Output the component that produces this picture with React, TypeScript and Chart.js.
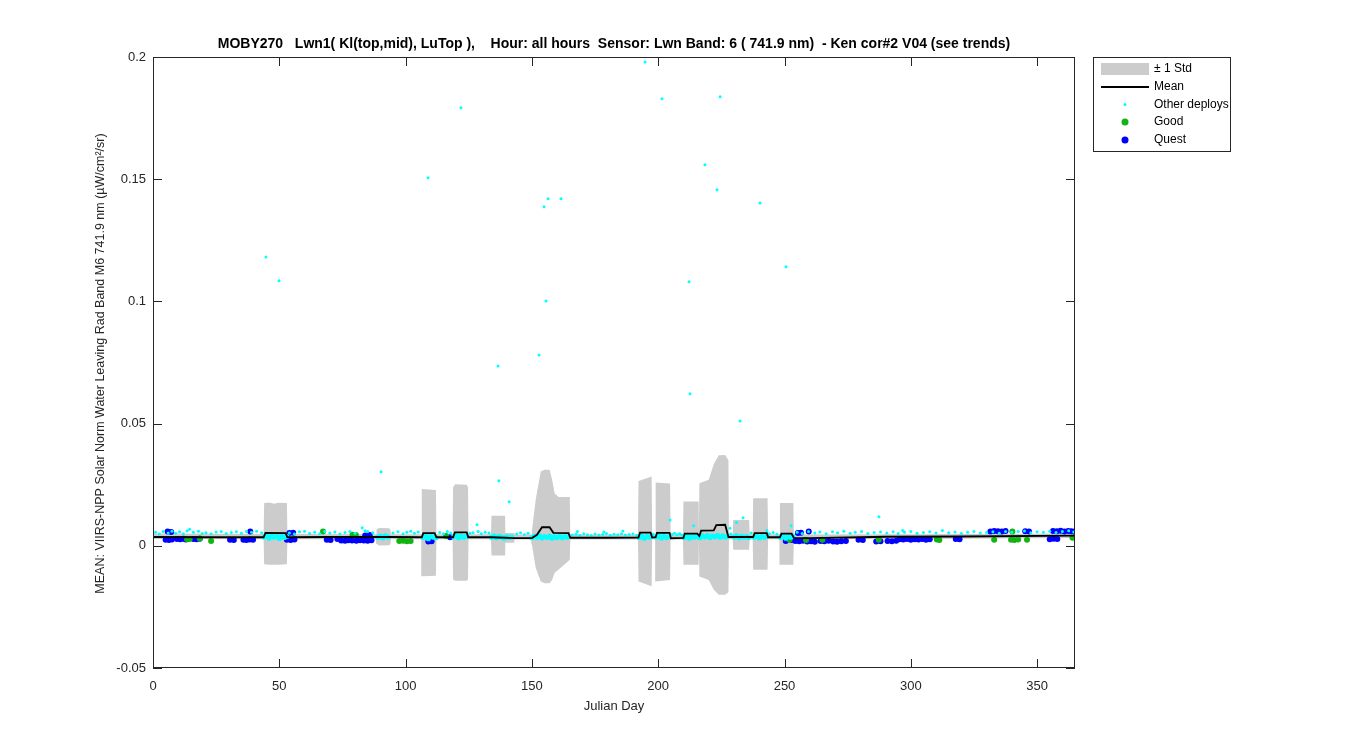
import React, { useEffect, useRef } from "react";
import { Chart, registerables } from "chart.js";

Chart.register(...registerables);

const TITLE =
  "MOBY270   Lwn1( Kl(top,mid), LuTop ),    Hour: all hours  Sensor: Lwn Band: 6 ( 741.9 nm)  - Ken cor#2 V04 (see trends)";
const X_LABEL = "Julian Day";
const Y_LABEL = "MEAN: VIIRS-NPP Solar Norm Water Leaving Rad Band M6 741.9 nm (\u00b5W/cm\u00b2/sr)";
const LEGEND_LABELS = ["\u00b1 1 Std", "Mean", "Other deploys", "Good", "Quest"];

const xTicks = [0, 50, 100, 150, 200, 250, 300, 350];
const yTicks = [-0.05, 0, 0.05, 0.1, 0.15, 0.2];

// [day, mean + std, mean - std]
const stdBand: [number, number, number][] = [
  [0, 0.005, 0.0028], [43.8, 0.0048, 0.0027], [44, 0.0175, -0.0075], [46, 0.0177, -0.0078],
  [48, 0.0172, -0.0078], [49.5, 0.0176, -0.0078], [53, 0.0175, -0.0075], [53.2, 0.0048, 0.0027],
  [88.3, 0.0047, 0.0027], [88.5, 0.0068, 0.0008], [89.5, 0.0073, 0.0001], [93.5, 0.0072, 0.0002],
  [94, 0.0065, 0.0008], [94.2, 0.0047, 0.0027], [106.2, 0.0047, 0.0027], [106.4, 0.0232, -0.0125],
  [112, 0.0228, -0.0123], [112.2, 0.0047, 0.0027], [118.6, 0.0047, 0.0027], [118.8, 0.024, -0.0138],
  [119.6, 0.0252, -0.0143], [124.2, 0.025, -0.0143], [124.7, 0.024, -0.0138], [124.9, 0.0047, 0.0027],
  [133.8, 0.0047, 0.0027], [134, 0.0123, -0.004], [139.4, 0.0123, -0.004], [139.5, 0.0052, 0.0012],
  [143, 0.0052, 0.0012], [143.2, 0.0046, 0.0026], [149.8, 0.0046, 0.0026], [150, 0.006, 0.0005],
  [151.5, 0.0188, -0.009], [153.5, 0.0304, -0.0146], [155, 0.0311, -0.0153], [157, 0.0311, -0.0153],
  [158, 0.027, -0.014], [159, 0.0215, -0.011], [160.5, 0.02, -0.0098], [163, 0.02, -0.0075],
  [165, 0.02, -0.0057], [165.2, 0.0046, 0.0026], [192, 0.0046, 0.0026], [192.2, 0.0265, -0.0146],
  [197.4, 0.0284, -0.0166], [197.6, 0.0046, 0.0026], [198.8, 0.0046, 0.0026], [199, 0.0259, -0.0146],
  [204.7, 0.0255, -0.014], [204.9, 0.0046, 0.0026], [209.8, 0.0046, 0.0026], [210, 0.0181, -0.0078],
  [216, 0.0181, -0.0078], [216.1, 0.005, 0.003], [216.3, 0.0256, -0.0126], [220, 0.027, -0.014],
  [222, 0.0335, -0.018], [224, 0.037, -0.02], [226.5, 0.0372, -0.02], [227.8, 0.035, -0.019],
  [228, 0.0047, 0.0027], [229.5, 0.0047, 0.0027], [229.7, 0.0106, -0.0016], [236, 0.0106, -0.0016],
  [236.2, 0.0047, 0.0027], [237.4, 0.0047, 0.0027], [237.6, 0.0195, -0.0098], [243.3, 0.0195, -0.0098],
  [243.5, 0.0047, 0.0027], [248, 0.0047, 0.0027], [248.2, 0.0175, -0.0078], [253.5, 0.0175, -0.0078],
  [253.7, 0.0046, 0.0027], [300, 0.0047, 0.0028], [365, 0.005, 0.0032],
];

// [day, mean]
const meanSeries: [number, number][] = [
  [0, 0.0036], [20, 0.0035], [43.8, 0.0035], [44.5, 0.0053], [52.5, 0.0052], [53.2, 0.0035],
  [70, 0.0036], [88.5, 0.0036], [94, 0.0036], [106.4, 0.0035], [107, 0.0052], [111.5, 0.0052],
  [112.2, 0.0035], [118.8, 0.0035], [119.5, 0.0055], [124.2, 0.0055], [124.8, 0.0035], [134, 0.0035],
  [139.4, 0.0033], [143, 0.0031], [150, 0.0032], [152, 0.0045], [154, 0.0076], [157, 0.0076],
  [158.5, 0.0053], [164.5, 0.0052], [165.2, 0.0033], [180, 0.0033], [192.2, 0.0034], [192.8, 0.0054],
  [197, 0.0054], [197.6, 0.0034], [199, 0.0035], [199.5, 0.0053], [204.5, 0.0053], [205, 0.0031],
  [210, 0.0032], [210.5, 0.005], [215.5, 0.005], [216.3, 0.004], [217, 0.0062], [222, 0.0063],
  [223, 0.0085], [226.5, 0.0086], [227.8, 0.0036], [236, 0.0036], [237.6, 0.0036], [238.2, 0.0052],
  [243, 0.0052], [243.5, 0.0035], [248.2, 0.0035], [248.8, 0.005], [252.8, 0.005], [253.7, 0.0032],
  [260, 0.0031], [285, 0.0036], [290, 0.0037], [320, 0.0038], [365, 0.0042],
];

// Other deploys: scattered dots around the baseline and the outliers
const otherPoints: [number, number][] = [
  [1, 0.0055], [2.5, 0.0048], [4, 0.0058], [6, 0.0052], [7.5, 0.006], [9, 0.0051], [10.5, 0.0057],
  [12, 0.0049], [13.5, 0.0062], [14.5, 0.0068], [16, 0.0055], [18, 0.006], [19.5, 0.005], [21, 0.0053],
  [23, 0.0049], [25, 0.0056], [27, 0.0058], [29, 0.005], [31, 0.0054], [33, 0.0057], [35, 0.0051],
  [37, 0.0059], [39, 0.0055], [41, 0.006], [43, 0.0053],
  [54, 0.0052], [56, 0.0048], [58, 0.0057], [60, 0.006], [62, 0.005], [64, 0.0055], [66, 0.0049],
  [68, 0.0058], [70, 0.0052], [72, 0.0056], [74, 0.0048], [76, 0.0054], [78, 0.0059], [80, 0.0051],
  [82.8, 0.0074], [84, 0.0062], [85, 0.0058], [87, 0.0053],
  [95, 0.0052], [97, 0.0057], [99, 0.0049], [100.5, 0.0055], [102, 0.006], [103.5, 0.0051], [105, 0.0056],
  [113.5, 0.0054], [115, 0.0049], [116.5, 0.0058], [117.8, 0.0052],
  [125.5, 0.0051], [126.7, 0.0053], [128.3, 0.0086], [128.7, 0.0058], [130, 0.0049], [131.5, 0.0055], [133, 0.0052],
  [144, 0.0048], [145.5, 0.0053], [147, 0.0046], [148.5, 0.0051],
  [166, 0.0044], [167.5, 0.0047], [168, 0.0058], [169, 0.0043], [170.5, 0.0049], [172, 0.0045],
  [173.5, 0.0042], [175, 0.0048], [176.5, 0.0044], [178, 0.0046], [178.5, 0.0056], [179.5, 0.005],
  [181, 0.0043], [182.5, 0.0047], [184, 0.0045], [185.5, 0.0049], [186, 0.0061], [187, 0.0044],
  [188.5, 0.0046], [190, 0.0048], [191.5, 0.0043],
  [198, 0.0047], [205.5, 0.0046], [206.5, 0.0051], [207.5, 0.0045], [208.5, 0.0049], [209.3, 0.0044],
  [204.7, 0.0106], [214, 0.0082], [228.4, 0.0072], [228.8, 0.0048], [231, 0.0095], [236.8, 0.0052],
  [243, 0.0063], [244, 0.0049], [245.5, 0.0054], [247, 0.0047], [252.6, 0.0082],
  [255, 0.0055], [257, 0.005], [259.5, 0.0058], [262, 0.0052], [264, 0.0056], [266.5, 0.0049],
  [269, 0.0057], [271, 0.0053], [273.5, 0.006], [276, 0.0051], [278, 0.0055], [280.5, 0.0058],
  [283, 0.005], [285.5, 0.0054], [288, 0.0056], [290.5, 0.0052], [293, 0.0057], [295, 0.005],
  [296.8, 0.0063], [297.5, 0.0055], [300, 0.0059], [302.5, 0.0051], [305, 0.0054], [307.5, 0.0057],
  [310, 0.0052], [312.5, 0.0063], [315, 0.0053], [317.5, 0.0056], [320, 0.005], [322.5, 0.0055],
  [325, 0.0058], [327.5, 0.0052], [330, 0.0054], [332.5, 0.0057], [335, 0.0051], [337.5, 0.0059],
  [340, 0.0055], [342.5, 0.0058], [345, 0.0061], [347.5, 0.0053], [350, 0.0057], [352.5, 0.0055],
  [355, 0.006], [357.5, 0.0054], [360, 0.0058], [362.5, 0.0062], [364.5, 0.0056],
  [44.7, 0.1182], [49.9, 0.1084], [90.3, 0.0303], [108.9, 0.1506], [121.9, 0.1792], [136.6, 0.0736],
  [136.9, 0.0266], [141, 0.018], [152.8, 0.0781], [154.8, 0.1387], [155.6, 0.1002], [156.4, 0.142],
  [161.5, 0.142], [194.8, 0.198], [201.5, 0.1829], [212.6, 0.0622], [212.2, 0.108], [218.5, 0.1559],
  [223.3, 0.1457], [224.5, 0.1837], [232.4, 0.0511], [233.6, 0.0115], [240.3, 0.1403], [250.6, 0.1142],
  [287.4, 0.0119],
];

// Other deploys: dense clusters inside the deployment windows
const otherClusters: [number, number][] = [
  [44, 0.0036], [45, 0.0041], [46, 0.0031], [47, 0.0044], [48, 0.0035], [49, 0.0039], [50, 0.003],
  [51, 0.0042], [52, 0.0034], [53, 0.0038],
  [89, 0.0035], [90, 0.004], [91, 0.0033], [92, 0.0041], [93, 0.0036],
  [107, 0.0034], [108, 0.0041], [109, 0.0029], [110, 0.0039], [111, 0.0035], [112, 0.0033],
  [119, 0.0037], [120, 0.0042], [121, 0.0033], [122, 0.004], [123, 0.0035], [124, 0.0038],
  [134, 0.0035], [135, 0.004], [136, 0.0033], [137, 0.0039], [138, 0.0036], [139, 0.0031],
  [140, 0.0037], [141, 0.0034], [142, 0.0036],
  [150, 0.0033], [151, 0.0039], [152, 0.0035], [153, 0.0041], [154, 0.0032], [155, 0.0038],
  [156, 0.0034], [157, 0.004], [158, 0.0031], [159, 0.0037], [160, 0.0034], [161, 0.0039],
  [162, 0.0033], [163, 0.0038], [164, 0.0035],
  [192.5, 0.0034], [193.5, 0.004], [194.5, 0.0031], [195.5, 0.0038], [196.5, 0.0035], [197.2, 0.0039],
  [199.3, 0.0036], [200.3, 0.0041], [201.3, 0.0032], [202.3, 0.0039], [203.3, 0.0034], [204.3, 0.0038],
  [210.3, 0.0034], [211.3, 0.004], [212.3, 0.0031], [213.3, 0.0038], [214.3, 0.0035], [215.3, 0.0039],
  [216.5, 0.0033], [217.5, 0.0041], [218.5, 0.0036], [219.5, 0.0042], [220.5, 0.0034], [221.5, 0.004],
  [222.5, 0.0037], [223.5, 0.0043], [224.5, 0.0035], [225.5, 0.0041], [226.5, 0.0036], [227.5, 0.0039],
  [230, 0.0036], [231, 0.0041], [232, 0.0033], [233, 0.0039], [234, 0.0035], [235, 0.0038], [235.8, 0.0034],
  [238, 0.0035], [239, 0.0041], [240, 0.0032], [241, 0.0038], [242, 0.0035], [243, 0.0039],
  [248.5, 0.0034], [249.5, 0.004], [250.5, 0.0031], [251.5, 0.0037], [252.5, 0.0035], [253.3, 0.0039],
];

const goodPoints: [number, number][] = [
  [13.5, 0.0027], [14.5, 0.0028], [18.5, 0.003], [23, 0.002], [67.3, 0.0058], [79, 0.0045],
  [80.3, 0.0044], [97.5, 0.002], [99, 0.0021], [100.5, 0.0019], [102, 0.002], [116, 0.004],
  [252, 0.0025], [258.5, 0.0024], [265, 0.0025], [287.3, 0.0025], [310.3, 0.0026], [311.3, 0.0024],
  [333, 0.0025], [339.7, 0.0025], [341, 0.0024], [342.5, 0.0026], [340.2, 0.0058], [346, 0.0025],
  [364, 0.0033],
];

const questPoints: [number, number][] = [
  [5, 0.0025], [6.3, 0.0024], [7.5, 0.0026], [5.8, 0.0058], [7.2, 0.0056], [9.5, 0.0028],
  [10.8, 0.0027], [12, 0.0029], [13, 0.0026], [16, 0.0028], [17.2, 0.0027], [18.5, 0.0029],
  [30.5, 0.0025], [32, 0.0024], [35.8, 0.0025], [37, 0.0024], [38.3, 0.0026], [39.6, 0.0025],
  [38.5, 0.0058], [53, 0.0025], [54.5, 0.0024], [56, 0.0026], [54, 0.0052], [55.5, 0.0053],
  [68.8, 0.0025], [70.3, 0.0024], [73, 0.0028], [74.5, 0.0022], [76, 0.0021], [77.3, 0.0023],
  [78.8, 0.0022], [80.5, 0.0021], [82, 0.0023], [83.5, 0.0022], [85, 0.0021], [86.5, 0.0023],
  [84, 0.0042], [85.8, 0.0044], [109, 0.0018], [110.3, 0.0019], [117.6, 0.0035],
  [250.5, 0.002], [252.8, 0.0024], [254.3, 0.002], [255.8, 0.0019], [257.3, 0.0021], [255.3, 0.0052],
  [256.5, 0.0053], [259.6, 0.0059], [259, 0.0018], [260.5, 0.0019], [262, 0.0017], [264.3, 0.002],
  [265.8, 0.0019], [267.5, 0.0021], [269.3, 0.0018], [270.8, 0.0017], [272.5, 0.0019], [274.3, 0.002],
  [279.3, 0.0025], [281, 0.0024], [286.3, 0.0018], [288, 0.0019], [290.8, 0.002], [292.5, 0.0019],
  [294.2, 0.0021], [295.5, 0.0027], [297, 0.0026], [298.5, 0.0028], [300, 0.0025], [301.5, 0.0027],
  [303, 0.0026], [304.5, 0.0028], [306, 0.0025], [307.5, 0.0027], [317.8, 0.0028], [319.3, 0.0027],
  [331.5, 0.0059], [333, 0.0061], [334.5, 0.006], [336, 0.0058], [337.5, 0.0061], [345.3, 0.006],
  [346.8, 0.0059], [355, 0.0027], [356.5, 0.0029], [358, 0.0028], [356.3, 0.0061], [357.8, 0.006],
  [359.3, 0.0062], [360.8, 0.0059], [362.3, 0.0061], [363.5, 0.006], [364.7, 0.0058],
];

const FONT = "'Liberation Sans', Arial, Helvetica, sans-serif";
const INK = "#262626";
const BAND = "#cccccc";
const CYAN = "#00ffff";
const GREEN = "#12b312";
const BLUE = "#0000ff";

const toXY = (arr: [number, number][]) => arr.map(([x, y]) => ({ x, y }));

const decorPlugin = {
  id: "matlabDecor",
  afterDraw(chart: any) {
    const { ctx, chartArea: a, scales } = chart;
    const xs = scales.x;
    const ys = scales.y;
    ctx.save();
    ctx.strokeStyle = INK;
    ctx.lineWidth = 1;
    ctx.strokeRect(a.left + 0.5, a.top + 0.5, a.right - a.left - 1, a.bottom - a.top - 1);
    const TL = 9;
    ctx.beginPath();
    xTicks.forEach((v) => {
      const px = Math.round(xs.getPixelForValue(v)) + 0.5;
      ctx.moveTo(px, a.bottom);
      ctx.lineTo(px, a.bottom - TL);
      ctx.moveTo(px, a.top);
      ctx.lineTo(px, a.top + TL);
    });
    yTicks.forEach((v) => {
      const py = Math.round(ys.getPixelForValue(v)) + 0.5;
      ctx.moveTo(a.left, py);
      ctx.lineTo(a.left + TL, py);
      ctx.moveTo(a.right, py);
      ctx.lineTo(a.right - TL, py);
    });
    ctx.stroke();

    const cx = (a.left + a.right) / 2;
    ctx.fillStyle = "#000";
    ctx.textAlign = "center";
    ctx.textBaseline = "middle";
    ctx.font = `bold 14px ${FONT}`;
    ctx.fillText(TITLE, cx, 44);
    ctx.fillStyle = INK;
    ctx.font = `13px ${FONT}`;
    ctx.fillText(X_LABEL, cx, 706);
    ctx.save();
    ctx.translate(101, (a.top + a.bottom) / 2 + 1);
    ctx.rotate(-Math.PI / 2);
    ctx.font = `12.5px ${FONT}`;
    ctx.fillText(Y_LABEL, 0, 0);
    ctx.restore();

    // legend
    const lx = 1093, ly = 57, lw = 137, lh = 94;
    ctx.fillStyle = "#fff";
    ctx.fillRect(lx, ly, lw, lh);
    ctx.strokeStyle = INK;
    ctx.lineWidth = 1;
    ctx.strokeRect(lx + 0.5, ly + 0.5, lw, lh);
    const rows = [69, 87, 104.5, 122, 140];
    const sx0 = 1101, sx1 = 1149, smid = 1125, tx = 1154;
    ctx.fillStyle = BAND;
    ctx.fillRect(sx0, rows[0] - 6, sx1 - sx0, 12);
    ctx.strokeStyle = "#000";
    ctx.lineWidth = 2;
    ctx.beginPath();
    ctx.moveTo(sx0, rows[1]);
    ctx.lineTo(sx1, rows[1]);
    ctx.stroke();
    const dot = (y: number, r: number, c: string) => {
      ctx.fillStyle = c;
      ctx.beginPath();
      ctx.arc(smid, y, r, 0, Math.PI * 2);
      ctx.fill();
    };
    dot(rows[2], 1.5, CYAN);
    dot(rows[3], 3.5, GREEN);
    dot(rows[4], 3.5, BLUE);
    ctx.fillStyle = "#000";
    ctx.textAlign = "left";
    ctx.font = `12px ${FONT}`;
    LEGEND_LABELS.forEach((t, i) => ctx.fillText(t, tx, rows[i]));
    ctx.restore();
  },
};

export default function App() {
  const ref = useRef<HTMLCanvasElement | null>(null);
  useEffect(() => {
    if (!ref.current) return;
    const chart = new Chart(ref.current, {
      type: "line",
      data: {
        datasets: [
          {
            label: "std upper",
            data: stdBand.map(([d, hi]) => ({ x: d, y: hi })),
            borderWidth: 0,
            borderColor: BAND,
            backgroundColor: BAND,
            pointRadius: 0,
            fill: "+1",
            order: 10,
          },
          {
            label: "std lower",
            data: stdBand.map(([d, , lo]) => ({ x: d, y: lo })),
            borderWidth: 0,
            borderColor: BAND,
            pointRadius: 0,
            fill: false,
            order: 9,
          },
          {
            label: "Quest",
            data: toXY(questPoints),
            showLine: false,
            pointRadius: 3,
            pointBorderWidth: 0,
            pointBackgroundColor: BLUE,
            order: 8,
          },
          {
            label: "Good",
            data: toXY(goodPoints),
            showLine: false,
            pointRadius: 3,
            pointBorderWidth: 0,
            pointBackgroundColor: GREEN,
            order: 7,
          },
          {
            label: "Other deploys (clusters)",
            data: toXY(otherClusters),
            showLine: false,
            pointRadius: 2.6,
            pointBorderWidth: 0,
            pointBackgroundColor: CYAN,
            order: 6,
          },
          {
            label: "Other deploys",
            data: toXY(otherPoints),
            showLine: false,
            pointRadius: 1.5,
            pointBorderWidth: 0,
            pointBackgroundColor: CYAN,
            order: 5,
          },
          {
            label: "Mean",
            data: toXY(meanSeries),
            borderColor: "#000",
            borderWidth: 1.8,
            pointRadius: 0,
            fill: false,
            order: 1,
          },
        ],
      },
      options: {
        responsive: false,
        animation: false,
        events: [],
        layout: { padding: { top: 57, right: 275, bottom: 0, left: 0 } },
        plugins: { legend: { display: false }, tooltip: { enabled: false }, title: { display: false } },
        elements: { line: { tension: 0 } },
        scales: {
          x: {
            type: "linear",
            min: 0,
            max: 365,
            grid: { display: false, drawTicks: false },
            border: { display: false },
            afterFit: (s: any) => {
              s.height = 82;
            },
            afterBuildTicks: (s: any) => {
              s.ticks = xTicks.map((v) => ({ value: v }));
            },
            ticks: {
              padding: 11,
              color: INK,
              font: { family: FONT, size: 13 },
              maxRotation: 0,
              callback: (v: any) => String(v),
            },
          },
          y: {
            type: "linear",
            min: -0.05,
            max: 0.2,
            grid: { display: false, drawTicks: false },
            border: { display: false },
            afterFit: (s: any) => {
              s.width = 153;
            },
            afterBuildTicks: (s: any) => {
              s.ticks = yTicks.map((v) => ({ value: v }));
            },
            ticks: {
              padding: 7,
              color: INK,
              font: { family: FONT, size: 13 },
              callback: (v: any) => String(Number(Number(v).toFixed(3))),
            },
          },
        },
      },
      plugins: [decorPlugin],
    } as any);
    return () => chart.destroy();
  }, []);
  return (
    <div style={{ position: "fixed", left: 0, top: 0, width: 1350, height: 750, background: "#fff" }}>
      <canvas ref={ref} width={1350} height={750} style={{ display: "block" }} />
    </div>
  );
}
